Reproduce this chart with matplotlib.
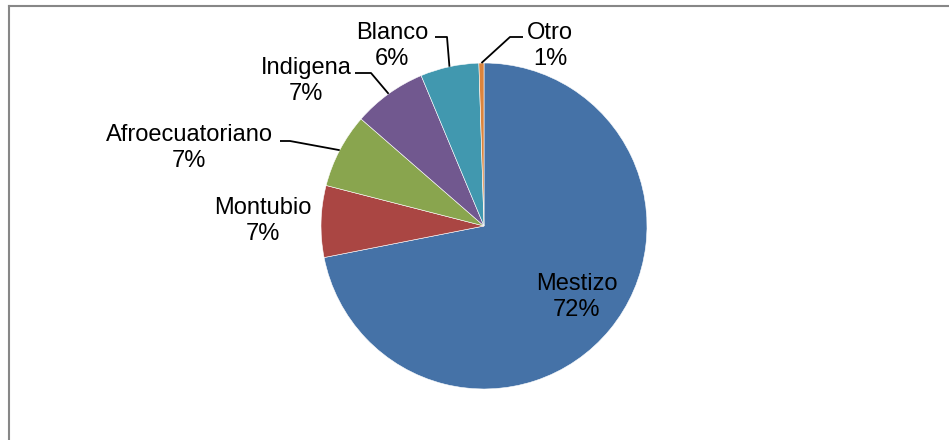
import matplotlib.pyplot as plt
from matplotlib.lines import Line2D
import numpy as np

# data (percent)
groups = ['Mestizo', 'Montubio', 'Afroecuatoriano', 'Indigena', 'Blanco', 'Otro']
shares = [71.9, 7.1, 7.4, 7.3, 5.8, 0.5]
colors = ['#4572A7', '#AA4643', '#89A54E', '#71588F', '#4198AF', '#DB843D']

W, H = 949, 440
CX, CY, R = 484, 226, 163  # pie centre / radius in pixels

plt.rcParams['font.family'] = ['Liberation Sans', 'DejaVu Sans']

fig = plt.figure(figsize=(W / 100, H / 100), dpi=100)
ax = fig.add_axes([(CX - R) / W, (H - CY - R) / H, 2 * R / W, 2 * R / H])

wedges, _ = ax.pie(shares, colors=colors, startangle=90, counterclock=False,
                   radius=1, wedgeprops=dict(edgecolor='white', linewidth=0.4))
ax.set_xlim(-1, 1)
ax.set_ylim(-1, 1)
ax.axis('off')


def px(x, y):
    # pixel position -> data coords of the pie axes
    return (x - CX) / R, (CY - y) / R


def pct(v):
    return '{}%'.format(int(v + 0.5))


# label centres (pixels)
label_pos = {
    'Mestizo': (577, 297),
    'Montubio': (263, 221),
    'Afroecuatoriano': (189, 148),
    'Indigena': (306, 81),
    'Blanco': (392, 46),
    'Otro': (550, 46),
}
# leader lines: start x, elbow x, y of horizontal part (pixels)
leaders = {
    'Afroecuatoriano': (280, 290, 141),
    'Indigena': (355, 371, 73),
    'Blanco': (435, 447, 37),
    'Otro': (523, 510, 37),
}

for w, g, v in zip(wedges, groups, shares):
    x, y = px(*label_pos[g])
    ax.text(x, y, g + '\n' + pct(v), ha='center', va='center', fontsize=17,
            linespacing=1.2, color='black')
    if g in leaders:
        x0, x1, yh = leaders[g]
        mid = np.deg2rad((w.theta1 + w.theta2) / 2)
        ex, ey = np.cos(mid), np.sin(mid)
        a = px(x0, yh)
        b = px(x1, yh)
        ax.plot([a[0], b[0], ex], [a[1], b[1], ey], color='black', lw=1.3,
                clip_on=False, solid_capstyle='butt')

# outer chart frame (only left and top visible)
fc = '#878787'
fig.add_artist(Line2D([8.5 / W, 8.5 / W], [0, 1 - 6.5 / H], color=fc, lw=1.5,
                      transform=fig.transFigure))
fig.add_artist(Line2D([8.5 / W, 1], [1 - 6.5 / H, 1 - 6.5 / H], color=fc, lw=1.5,
                      transform=fig.transFigure))

fig.savefig('out.png', dpi=100, facecolor='white')
